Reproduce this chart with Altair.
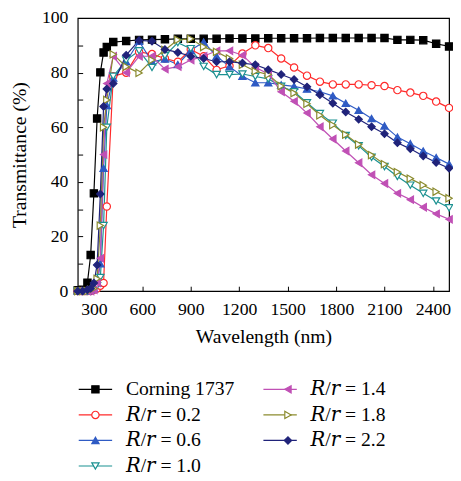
import altair as alt
import pandas as pd

# Wavelength grid (nm)
wavelength = [200, 230, 260, 280, 300, 320, 340, 360, 380, 420,
              500, 580, 660, 740, 820, 900, 980, 1060, 1140, 1220,
              1300, 1380, 1460, 1540, 1620, 1700, 1780, 1860, 1940, 2020,
              2100, 2180, 2260, 2340, 2420, 2500]

corning = [0.3, 0.5, 3.1, 13.2, 35.8, 63.2, 80.1, 87.4, 89.4, 91.2,
           91.6, 92.0, 92.1, 92.2, 92.4, 92.4, 92.4, 92.4, 92.5, 92.5,
           92.5, 92.6, 92.6, 92.6, 92.6, 92.7, 92.7, 92.7, 92.7, 92.7,
           92.7, 92.0, 92.0, 91.9, 90.6, 89.6]
rr_02 = [0, 0, 0, 0, 0.5, 1, 2, 3, 31, 78.7,
         80, 87.6, 86.8, 85.2, 84.0, 88.5, 86.0, 81.0, 82.5, 87.0,
         90.0, 89.0, 85.2, 81.9, 78.9, 76.7, 75.7, 75.7, 75.7, 75.4,
         75.1, 73.6, 72.7, 71.5, 69.4, 67.1]
rr_06 = [0, 0, 0, 0.5, 1, 3, 10, 45, 68, 78,
         84, 91.5, 84, 85, 83, 88.2, 91.2, 86, 82.2, 78.7,
         76.3, 76.3, 75.5, 75, 74, 73, 71.5, 68.8, 66.2, 63.2,
         60.5, 56.4, 54, 51.3, 48.9, 46.5]
rr_10 = [0, 0, 0, 0, 0.5, 2, 5, 24, 60, 78.7,
         84.6, 88, 81.9, 86.2, 91, 88.8, 82.3, 79.3, 79.3, 79.5,
         78.6, 77.7, 75, 73, 69, 65, 61.5, 57, 53.2, 49,
         45.6, 42, 38.8, 35.8, 33, 30.5]
rr_14 = [0, 0, 0, 0, 0.5, 3, 12, 50, 76, 86,
         80, 86, 86, 81.3, 82.2, 84.6, 86, 88, 88, 86.4,
         82, 79.5, 73, 69.5, 65.2, 60.2, 55.7, 51.3, 47, 42.6,
         39.4, 35.8, 33.5, 30.7, 28.3, 26.3]
rr_18 = [0, 0, 0, 0.5, 1, 4.5, 24, 60, 70, 86.7,
         82.2, 79.9, 84.6, 88.3, 92, 92.4, 89.4, 87.6, 85.2, 82.9,
         80.5, 79.3, 75.1, 72.5, 68.6, 64.4, 60.8, 57.3, 53.7, 49.8,
         46.5, 43.6, 41.2, 38.8, 36.4, 34]
rr_22 = [0, 0, 0.5, 1, 3, 9.6, 35.6, 67.6, 74, 76,
         86.4, 91.8, 91.5, 88.5, 87.4, 86, 85.2, 84, 84, 83.5,
         82.9, 81.1, 79.3, 77.5, 74.8, 71.9, 68.8, 65.6, 62.9, 60.2,
         57.6, 54.3, 52.1, 49.5, 47.1, 45]

series_names = ["Corning 1737", "\U0001D445/\U0001D45F = 0.2", "\U0001D445/\U0001D45F = 0.6",
                "\U0001D445/\U0001D45F = 1.0", "\U0001D445/\U0001D45F = 1.4",
                "\U0001D445/\U0001D45F = 1.8", "\U0001D445/\U0001D45F = 2.2"]
series_values = [corning, rr_02, rr_06, rr_10, rr_14, rr_18, rr_22]
line_colors = ["#000000", "#ff2a2a", "#2f5bc4", "#1b9191", "#c050b5", "#8b8b2e", "#20237a"]
marker_shapes = ["square", "circle", "triangle-up", "triangle-down",
                 "triangle-left", "triangle-right", "diamond"]
marker_filled = [True, False, True, False, True, False, True]

ZW = "\u200b"
rows = []
for name, vals in zip(series_names, series_values):
    for x, y in zip(wavelength, vals):
        rows.append({"wavelength": x, "T": y, "series": name, "series_s": name + ZW})
df = pd.DataFrame(rows)

dom = series_names
dom_s = [n + ZW for n in series_names]
fill_rng = [c if f else "#ffffff" for c, f in zip(line_colors, marker_filled)]

FONT = "Liberation Serif, Tinos, Times New Roman, DejaVu Serif, serif"
LX, LY = 0, 368

base = alt.Chart(df).encode(
    x=alt.X("wavelength:Q",
            scale=alt.Scale(domain=[200, 2500], nice=False, zero=False),
            axis=alt.Axis(title="Wavelength (nm)", values=[300, 600, 900, 1200, 1500, 1800, 2100, 2400],
                          format="d", domain=False, grid=False, offset=-5, tickSize=5,
                          labelPadding=10, titlePadding=8)),
    y=alt.Y("T:Q",
            scale=alt.Scale(domain=[0, 100], nice=False),
            axis=alt.Axis(title="Transmittance (%)", values=list(range(0, 101, 10)),
                          labelExpr="datum.value % 20 === 0 ? datum.label : ''",
                          domain=False, grid=False, offset=-5, tickSize=5, labelPadding=10,
                          titlePadding=12)),
)

lines = base.mark_line(strokeWidth=1.2).encode(
    color=alt.Color("series:N", scale=alt.Scale(domain=dom, range=line_colors),
                    legend=alt.Legend(title=None, orient="none", legendX=LX, legendY=LY,
                                      columns=2, symbolType="stroke", symbolSize=1156,
                                      symbolStrokeWidth=1.2, clipHeight=20,
                                      labelFont=FONT, labelFontSize=20, labelColor="black",
                                      labelOffset=13, columnPadding=28, rowPadding=6,
                                      padding=0, labelLimit=300))
)

leg_b = alt.Legend(title=None, orient="none", legendX=LX, legendY=LY, columns=2,
                   symbolSize=55, symbolStrokeWidth=1.2, clipHeight=20,
                   labelFont=FONT, labelFontSize=20, labelExpr="''",
                   symbolOffset=8, labelOffset=29, columnPadding=139, rowPadding=6,
                   padding=0, labelLimit=300)

points = base.mark_point(size=55, strokeWidth=1.2, opacity=1).encode(
    shape=alt.Shape("series_s:N", scale=alt.Scale(domain=dom_s, range=marker_shapes), legend=leg_b),
    fill=alt.Fill("series_s:N", scale=alt.Scale(domain=dom_s, range=fill_rng), legend=leg_b),
    stroke=alt.Stroke("series_s:N", scale=alt.Scale(domain=dom_s, range=line_colors), legend=leg_b),
)

chart = alt.layer(lines, points).properties(
    width=378, height=278,
    padding={"left": 71, "top": 6, "right": 4, "bottom": 185},
    autosize=alt.AutoSizeParams(type="none"),
).configure_view(stroke="black", strokeWidth=1.2).configure_axis(
    labelFont=FONT, titleFont=FONT, labelFontSize=18, titleFontSize=20,
    labelColor="black", titleColor="black", tickColor="black", titleFontWeight="normal"
)

chart.save("out.html", embed_options={"renderer": "svg", "actions": False})
